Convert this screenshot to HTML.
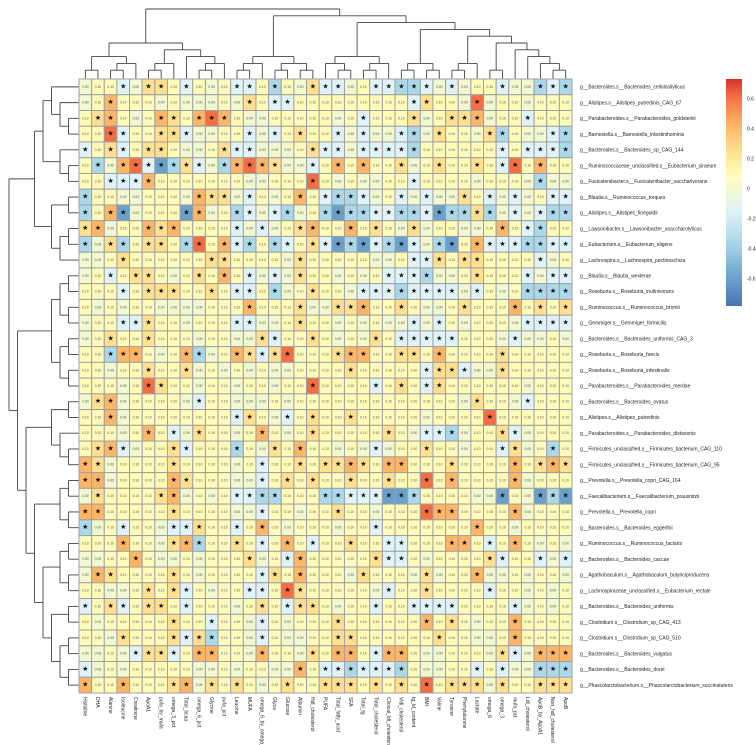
<!DOCTYPE html>
<html><head><meta charset="utf-8"><style>
html,body{margin:0;padding:0;background:#fff;}
svg{display:block;font-family:"Liberation Sans",sans-serif;}
</style></head><body>
<svg id="chart" width="756" height="745" viewBox="0 0 756 745" xmlns="http://www.w3.org/2000/svg">
<g id="dendTop"></g>
<g id="dendLeft"></g>
<g id="cells"></g>
<g id="colLabels"></g>
<g id="rowLabels"></g>
<g id="legend"></g>
</svg>
<script>
const colNames = ["Histidine","DHA","Alanine","Isoleucine","Creatinine","ApoA1","pufa_by_mufa","omega_3_pct","Total_bcaa","omega_6_pct","Glycine","pufa_pct","Leucine","MUFA","omega_6_by_omega_3","Glyca","Glucose","Albumin","Hdl_cholesterol","PUFA","Total_fatty_acid","SFA","Total_tg","Total_cholesterol","Clinical_ldl_cholesterol","Vldl_cholesterol","tg_ld_content","BMI","Valine","Tyrosine","Phenylalanine","Lactate","omega_6","omega_3","mufa_pct","Ldl_cholesterol","ApoB_by_ApoA1","Non_hdl_cholesterol","ApoB"];
const rowNames = ["Bacteroides.s__Bacteroides_cellulosilyticus","Alistipes.s__Alistipes_putredinis_CAG_67","Parabacteroides.s__Parabacteroides_goldsteinii","Barnesiella.s__Barnesiella_intestinihominis","Bacteroides.s__Bacteroides_sp_CAG_144","Ruminococcaceae_unclassified.s__Eubacterium_siraeum","Fusicatenibacter.s__Fusicatenibacter_saccharivorans","Blautia.s__Ruminococcus_torques","Alistipes.s__Alistipes_finegoldii","Lawsonibacter.s__Lawsonibacter_asaccharolyticus","Eubacterium.s__Eubacterium_eligens","Lachnospira.s__Lachnospira_pectinoschiza","Blautia.s__Blautia_wexlerae","Roseburia.s__Roseburia_inulinivorans","Ruminococcus.s__Ruminococcus_bromii","Gemmiger.s__Gemmiger_formicilis","Bacteroides.s__Bacteroides_uniformis_CAG_3","Roseburia.s__Roseburia_faecis","Roseburia.s__Roseburia_intestinalis","Parabacteroides.s__Parabacteroides_merdae","Bacteroides.s__Bacteroides_ovatus","Alistipes.s__Alistipes_putredinis","Parabacteroides.s__Parabacteroides_distasonis","Firmicutes_unclassified.s__Firmicutes_bacterium_CAG_110","Firmicutes_unclassified.s__Firmicutes_bacterium_CAG_95","Prevotella.s__Prevotella_copri_CAG_164","Faecalibacterium.s__Faecalibacterium_prausnitzii","Prevotella.s__Prevotella_copri","Bacteroides.s__Bacteroides_eggerthii","Ruminococcus.s__Ruminococcus_lactaris","Bacteroides.s__Bacteroides_caccae","Agathobaculum.s__Agathobaculum_butyriciproducens","Lachnospiraceae_unclassified.s__Eubacterium_rectale","Bacteroides.s__Bacteroides_uniformis","Clostridium.s__Clostridium_sp_CAG_413","Clostridium.s__Clostridium_sp_CAG_510","Bacteroides.s__Bacteroides_vulgatus","Bacteroides.s__Bacteroides_dorei","Phascolarctobacterium.s__Phascolarctobacterium_succinatutens"];
const legendTicks = [0.6,0.4,0.2,0,-0.2,-0.4,-0.6];
const row00=[0,.1,.1,-.15,0,.25,.25,.1,-.15,.1,0,.1,-.15,-.15,.1,-.35,.1,0,.25,-.15,-.15,0,.1,-.15,-.15,-.35,-.35,-.15,0,-.15,0,.1,.1,-.15,0,0,-.35,-.15,-.35];
const row01=[0,.1,.42,.1,.1,.1,0,.1,0,0,0,.1,0,.25,.1,-.15,-.15,.1,.1,.1,.1,.1,.1,.1,.1,.1,-.15,.25,.1,.1,0,.62,0,.1,.1,0,.1,.1,.1];
const row02=[.1,.25,.42,.1,0,.1,.42,.25,.1,.42,.62,.42,.1,0,0,.1,.1,.1,.1,.1,0,.1,-.15,.1,.1,.1,.25,0,.1,.25,.25,.42,0,.1,.1,-.15,.1,.1,.1];
const row03=[.1,.1,.62,-.15,.1,.1,.25,.25,-.15,0,0,.1,.1,-.15,0,-.15,.1,.25,.1,.1,-.15,0,-.15,0,0,-.15,-.35,0,.25,.1,.1,0,.25,-.35,.1,0,0,-.15,-.35];
const row04=[-.15,.1,.25,-.15,.1,.25,.25,.1,0,0,.1,.25,-.15,-.15,0,0,0,.1,.25,-.15,-.15,0,-.15,-.15,-.15,-.15,-.35,.1,.1,.1,.1,.1,.1,-.15,.1,-.15,-.15,-.15,-.35];
const row05=[.1,-.35,0,.42,.62,-.15,-.6,-.35,.25,-.15,0,-.35,.42,.62,.42,.25,0,0,-.15,.1,.42,.1,.42,.1,.1,.25,0,.1,.25,.1,.1,.25,.1,-.15,.62,.1,.42,.1,.1];
const row06=[.1,.1,-.15,-.15,-.15,.42,.1,.1,.1,.1,.1,.1,.1,0,0,.1,.1,.1,.62,.1,0,.1,0,0,.1,.1,-.15,.1,.1,.1,.1,0,.1,.1,.1,0,-.35,0,0];
const row07=[-.35,.1,.1,0,0,.1,.1,.1,0,.42,.25,.25,0,-.15,.1,0,.1,.42,.1,-.15,-.35,-.35,-.15,0,.1,-.15,0,-.15,0,0,.25,.1,-.15,0,-.15,0,.1,-.15,-.15];
const row08=[-.35,.1,.42,-.6,0,.1,.1,.1,-.6,.42,0,.1,-.35,-.15,0,-.15,-.35,0,.1,-.35,-.6,-.35,-.35,-.15,-.15,-.35,-.35,-.15,-.6,-.35,-.35,.25,-.35,0,-.15,0,-.15,-.35,-.35];
const row09=[.25,.42,0,.1,.1,.42,.25,.42,.1,.1,.1,.1,-.15,0,-.15,0,.1,.25,.42,.1,.1,.42,.1,.25,.1,0,.25,0,.1,.1,0,0,.1,.42,.1,-.15,-.35,.1,.1];
const row10=[-.35,0,.25,-.35,.1,.25,.25,.1,-.35,.62,.1,.42,-.15,-.35,.1,-.35,-.15,.1,.25,-.15,-.6,-.35,-.6,-.15,-.35,-.6,-.15,0,-.35,-.6,.1,.42,-.15,-.15,-.15,-.35,-.35,-.15,-.15];
const row11=[0,0,.1,.25,.1,.1,.1,.1,.1,.1,.25,.25,.1,.1,.1,.1,0,.25,.1,.1,.1,.1,.1,0,0,.1,-.15,-.15,.25,.1,.25,.25,.1,.1,.1,.1,-.15,0,.1];
const row12=[0,.1,-.15,.1,.25,.25,.1,0,.1,.25,.1,.42,.1,-.15,0,-.15,0,.25,.1,.1,0,.1,0,.1,-.15,-.15,-.15,-.35,0,0,.1,.25,.1,.1,.1,-.15,0,-.15,-.15];
const row13=[.1,.1,.1,-.15,.1,.25,.25,.25,.1,.1,.25,.1,-.15,-.15,.1,-.35,0,.1,.25,.1,.1,0,-.15,-.15,-.15,-.35,-.15,-.15,-.15,-.15,0,-.15,.1,0,.1,-.35,-.35,-.35,-.35];
const row14=[.1,0,.1,0,.1,.1,0,0,0,0,.1,.1,.1,.42,.1,.1,.1,.25,0,0,.25,.25,.42,.1,.1,.25,.1,0,0,.1,.25,.1,.1,.1,.42,.1,.25,.1,.25];
const row15=[0,.1,.1,-.15,-.15,.25,.1,.1,0,.1,.1,.1,-.15,-.15,0,0,.1,.25,.1,.1,0,.1,0,.1,0,0,-.15,0,-.15,.1,0,.1,.1,.1,0,-.15,-.15,-.15,-.15];
const row16=[0,.1,.25,.1,.1,.25,.1,.1,.1,0,.1,.1,0,0,.25,-.15,.1,.1,.25,.1,0,.1,0,.25,.1,-.15,-.15,-.15,-.15,-.15,.1,.1,.1,0,-.15,0,0,.1,0];
const row17=[.1,.1,-.35,.42,.42,.1,0,.1,.42,-.35,0,.1,.42,.25,-.15,.25,.62,.1,.1,.1,.25,.42,.42,.1,.1,.25,.25,.1,.42,.1,.1,.1,.1,.25,.1,.1,.1,.1,.1];
const row18=[.1,.1,0,.1,.1,.25,.1,.1,.25,0,.1,0,.1,0,.1,0,0,.1,.1,.1,.1,.25,.1,.1,.1,.1,.1,-.15,.25,.25,-.15,0,0,.25,.1,.1,.1,.1,.1];
const row19=[.1,.1,.1,0,.1,.62,.25,.1,.1,0,.1,.1,0,.1,.1,0,.1,.1,.62,.1,.1,.1,.1,-.15,.1,.25,.1,-.15,.25,.1,.1,.1,.1,.1,.1,0,.1,.1,.1];
const row20=[0,.25,.42,0,.1,.1,.1,.1,0,-.15,.1,.1,0,0,0,.1,0,.1,.1,.1,.1,.1,.1,.1,.1,.1,.1,.1,.1,.1,0,.25,.1,.1,0,-.15,.1,.1,.1];
const row21=[.1,.1,.42,0,.1,.1,.1,.1,.1,.1,.1,.1,-.15,.25,.1,0,-.15,.1,.25,.1,.1,.25,.1,.1,.1,.1,.1,0,.1,.1,.1,.1,.62,.1,.1,.1,.1,.1,.1];
const row22=[.1,.1,.1,0,.1,.42,.1,-.15,0,.25,.1,.1,0,.1,.42,.1,0,.1,.25,.1,.1,.1,.1,.1,.25,.1,0,-.15,-.15,-.35,0,.1,.1,.25,-.15,0,.1,.1,.1];
const row23=[.1,.25,.42,-.15,0,.1,.1,.25,-.15,.1,.1,.1,-.35,.1,0,.25,.1,.42,.1,.1,0,.1,0,-.15,0,.1,.1,.25,.1,.1,0,.1,.1,-.15,.25,0,.1,-.35,.1];
const row24=[.42,.25,0,.1,.1,.1,.1,.25,.1,.1,.1,.1,0,.1,-.15,.1,.1,.25,.1,.25,.25,.42,.25,.1,.42,.42,.1,.1,.1,.25,.1,.1,.1,.1,.42,.1,.25,.42,.25];
const row25=[.42,.42,0,.1,.1,.1,.1,.42,.25,.1,.1,.1,0,0,-.15,.1,.25,.1,.25,.1,.1,.25,.1,.1,.25,.1,.1,.62,.1,.42,.1,.1,.1,.1,.42,0,.1,.1,.1];
const row26=[0,.25,.1,.1,.1,.1,.25,.42,0,.1,0,.1,-.15,-.15,-.35,-.35,.1,.1,.1,-.35,-.35,-.15,-.15,-.15,-.6,-.6,-.35,.1,.1,.1,.1,0,0,-.6,.1,0,-.6,-.35,-.6];
const row27=[.42,.42,.1,.1,.1,.1,.1,.25,.1,.1,.1,.1,0,0,-.15,.1,.1,0,.1,.1,.25,.1,.1,0,.1,.1,.1,.62,.42,.42,.1,.1,.1,.1,.42,0,.1,.1,.1];
const row28=[-.35,0,.1,-.15,.1,.1,0,-.15,-.15,.25,.1,.1,-.15,.1,.42,.1,0,.1,.1,.1,0,.1,.1,-.15,.1,.1,.1,.1,.1,.1,.1,.42,.1,.1,0,.1,.1,.1,.1];
const row29=[.1,.1,.1,.42,.1,.1,0,.25,.42,-.35,.1,.1,.25,.1,-.15,.1,.42,.1,-.15,.1,.1,.25,.1,.1,-.15,-.15,.1,.1,.1,.42,.42,.1,-.15,.1,.42,.1,0,.1,0];
const row30=[0,0,.1,.1,.42,.1,0,0,.1,0,.1,.1,.1,.25,0,.1,-.15,.42,.1,.1,.1,.1,.1,.25,-.15,-.15,.1,0,.1,.1,.1,.1,.25,-.15,.1,.1,-.15,0,-.15];
const row31=[0,.42,.25,.1,.1,.1,.1,.25,.1,0,.1,.1,.1,.1,-.15,.25,.1,.42,.1,.1,.1,0,.25,.1,.1,.1,0,.25,0,.1,.1,.42,0,0,.1,0,.1,.1,0];
const row32=[.1,.1,0,0,.1,.25,.1,.25,-.15,.1,0,.1,.1,-.15,-.15,.1,.62,.25,.1,.1,.1,.1,.1,0,-.15,.1,.1,.25,.1,.1,.1,.1,-.15,.1,.1,0,.1,0,.1];
const row33=[-.15,.1,.25,-.15,.1,.25,.25,.1,-.15,.1,.1,.1,0,.1,.25,.1,-.15,.25,.25,.1,0,.1,.1,-.15,.1,.1,-.15,-.15,-.15,-.15,.1,.1,.1,.1,-.15,0,.1,0,.1];
const row34=[.1,0,.1,.1,.1,.1,.1,.25,.1,.1,-.15,.1,.1,0,-.15,.1,0,.1,.1,.1,.25,.1,.1,.1,.1,.1,.1,.42,.1,.25,.1,0,.1,.1,.42,.1,.1,.1,.1];
const row35=[.1,.1,0,.25,.1,.1,.1,.25,-.15,.25,-.35,.1,.1,0,-.15,.1,0,0,.1,.1,.25,.25,.1,.1,.1,.1,.1,.1,.25,.1,.1,0,0,.1,.42,.1,.1,.1,.1];
const row36=[0,0,.1,0,-.15,.25,.25,-.15,.1,.42,.42,.1,.1,0,.42,.1,.1,0,.25,.1,.42,.42,.1,-.15,.42,.42,.1,0,0,.1,.1,.1,0,.25,-.15,0,.42,.42,.42];
const row37=[-.15,0,.1,0,.1,.1,.1,.1,.1,0,0,.1,0,.1,.1,0,0,.42,.1,-.15,-.15,-.35,-.15,-.15,-.15,-.35,.1,0,0,.1,.1,-.15,.1,-.15,0,0,-.35,-.35,-.35];
const row38=[.42,.1,.1,.42,.1,.1,.1,.25,.42,0,.25,.1,.25,.1,0,.1,.25,.1,.1,.25,.25,.25,.1,.25,.1,.25,.1,.62,.1,.25,.25,.25,0,.25,.1,.1,.25,.25,.25];
const values=[row00,row01,row02,row03,row04,row05,row06,row07,row08,row09,row10,row11,row12,row13,row14,row15,row16,row17,row18,row19,row20,row21,row22,row23,row24,row25,row26,row27,row28,row29,row30,row31,row32,row33,row34,row35,row36,row37,row38];
const colTree=[[[[0,1],[[2,3],4]],[[[5,6],7],[8,[[9,10],11]]]],[[[[12,13],14],[[15,16],[17,18]]],[[[19,[20,21]],[[22,23],24]],[[[25,26],[27,28]],[[[29,30],31],[[32,33],[34,[35,[36,[37,38]]]]]]]]]];
const rowTree=[[[[0,[1,[2,3]]],[4,[5,6]]],[[7,8],[[9,10],11]]],[[[[12,13],[14,15]],[[16,17],[18,19]]],[[[20,21],[22,[23,24]]],[[[25,26],[27,28]],[[[29,30],[31,32]],[[33,34],[[35,36],[37,38]]]]]]]];

const NS="http://www.w3.org/2000/svg";
const X0=79,Y0=79,GW=493,GH=614;
const nC=colNames.length,nR=rowNames.length;
const cw=GW/nC,ch=GH/nR;
const xPos=i=>X0+i*cw, yPos=j=>Y0+j*ch;
const stops=[[-0.78,[69,117,180]],[-0.55,[116,173,209]],[-0.35,[171,217,233]],[-0.15,[224,243,248]],[0,[242,248,208]],[0.08,[255,255,191]],[0.25,[254,224,144]],[0.45,[253,174,97]],[0.62,[244,109,67]],[0.73,[215,48,39]]];
function color(v){
  if(v<=stops[0][0])return `rgb(${stops[0][1]})`;
  for(let k=1;k<stops.length;k++){
    if(v<=stops[k][0]){const a=stops[k-1],b=stops[k];const t=(v-a[0])/(b[0]-a[0]);
      return `rgb(${a[1].map((c,i)=>Math.round(c+(b[1][i]-c)*t)).join(',')})`;}
  }
  return `rgb(${stops[stops.length-1][1]})`;
}
function mk(tag,attrs,parent){const e=document.createElementNS(NS,tag);for(const k in attrs)e.setAttribute(k,attrs[k]);parent.appendChild(e);return e;}

const gc=document.getElementById('cells');
values.forEach((row,j)=>row.forEach((v,i)=>{
  const r=mk('rect',{x:xPos(i),y:yPos(j),width:cw,height:ch,fill:color(v),stroke:'#a0a0a0','stroke-width':1},gc);
  
  
  const t=mk('text',{x:xPos(i)+cw/2,y:yPos(j)+ch/2,'text-anchor':'middle','dominant-baseline':'central',fill:'#111'},gc);
  if(Math.abs(v)>=0.15){t.setAttribute('font-size','7');t.textContent='★';}
  else{t.setAttribute('font-size','3.4');t.setAttribute('fill','#555');t.textContent=v.toFixed(2);}
  
  
}));

const gcl=document.getElementById('colLabels');
colNames.forEach((n,i)=>{
  const x=xPos(i)+cw/2;
  const t=mk('text',{x:0,y:0,transform:`translate(${x-1.8},697) rotate(90)`,'font-size':'5','fill':'#222'},gcl);
  t.textContent=n;
  
  
});
const grl=document.getElementById('rowLabels');
rowNames.forEach((n,j)=>{
  const t=mk('text',{x:580,y:yPos(j)+ch/2+1.7,'font-size':'5','fill':'#222'},grl);
  t.textContent='g__'+n;
  
  
});

function layout(node){
  if(typeof node==='number')return {pos:node+0.5,h:0};
  const a=layout(node[0]),b=layout(node[1]);
  return {pos:(a.pos+b.pos)/2,h:Math.max(a.h,b.h)+1,kids:[a,b]};
}
function drawTree(node,g,maxH,horiz){
  const segs=[];
  (function rec(n){
    if(!n.kids)return;
    n.kids.forEach(k=>{segs.push([k.pos,k.h,k.pos,n.h]);rec(k);});
    segs.push(['bar',n.kids[0].pos,n.kids[1].pos,n.h]);
  })(node);
  const L=68;
  const hp=h=>h/maxH*L;
  segs.forEach(s=>{
    let d;
    if(s[0]==='bar'){
      d=horiz?`M${X0-2-hp(s[3])},${yPos(0)+s[1]*ch} L${X0-2-hp(s[3])},${yPos(0)+s[2]*ch}`:`M${xPos(0)+s[1]*cw},${Y0-2-hp(s[3])} L${xPos(0)+s[2]*cw},${Y0-2-hp(s[3])}`;
    }else{
      const p=s[0],h0=s[1],h1=s[3];
      d=horiz?`M${X0-2-hp(h0)+(h0===0?2:0)},${yPos(0)+p*ch} L${X0-2-hp(h1)},${yPos(0)+p*ch}`:`M${xPos(0)+p*cw},${Y0-2-hp(h0)+(h0===0?2:0)} L${xPos(0)+p*cw},${Y0-2-hp(h1)}`;
    }
    const e=mk('path',{d:d,stroke:'#444','stroke-width':0.9,fill:'none'},g);
    
    
  });
}
const ct=layout(colTree),rt=layout(rowTree);
drawTree(ct,document.getElementById('dendTop'),ct.h,false);
drawTree(rt,document.getElementById('dendLeft'),rt.h,true);

const gl=document.getElementById('legend');
const defs=mk('defs',{},gl);
const lg=mk('linearGradient',{id:'lgrad',x1:0,y1:0,x2:0,y2:1},defs);
const vTop=0.733,vBot=-0.78;
for(let k=0;k<=30;k++){const v=vTop+(vBot-vTop)*k/30;mk('stop',{offset:(k/30),'stop-color':color(v)},lg);}
const lr=mk('rect',{x:726,y:79,width:16,height:227,fill:'url(#lgrad)'},gl);


const ly=v=>189-v*150;
legendTicks.forEach(v=>{
  const t=mk('text',{x:747,y:ly(v)+1.7,'font-size':'5','fill':'#222'},gl);
  t.textContent=String(v);
  
  
});
</script>
</body></html>
